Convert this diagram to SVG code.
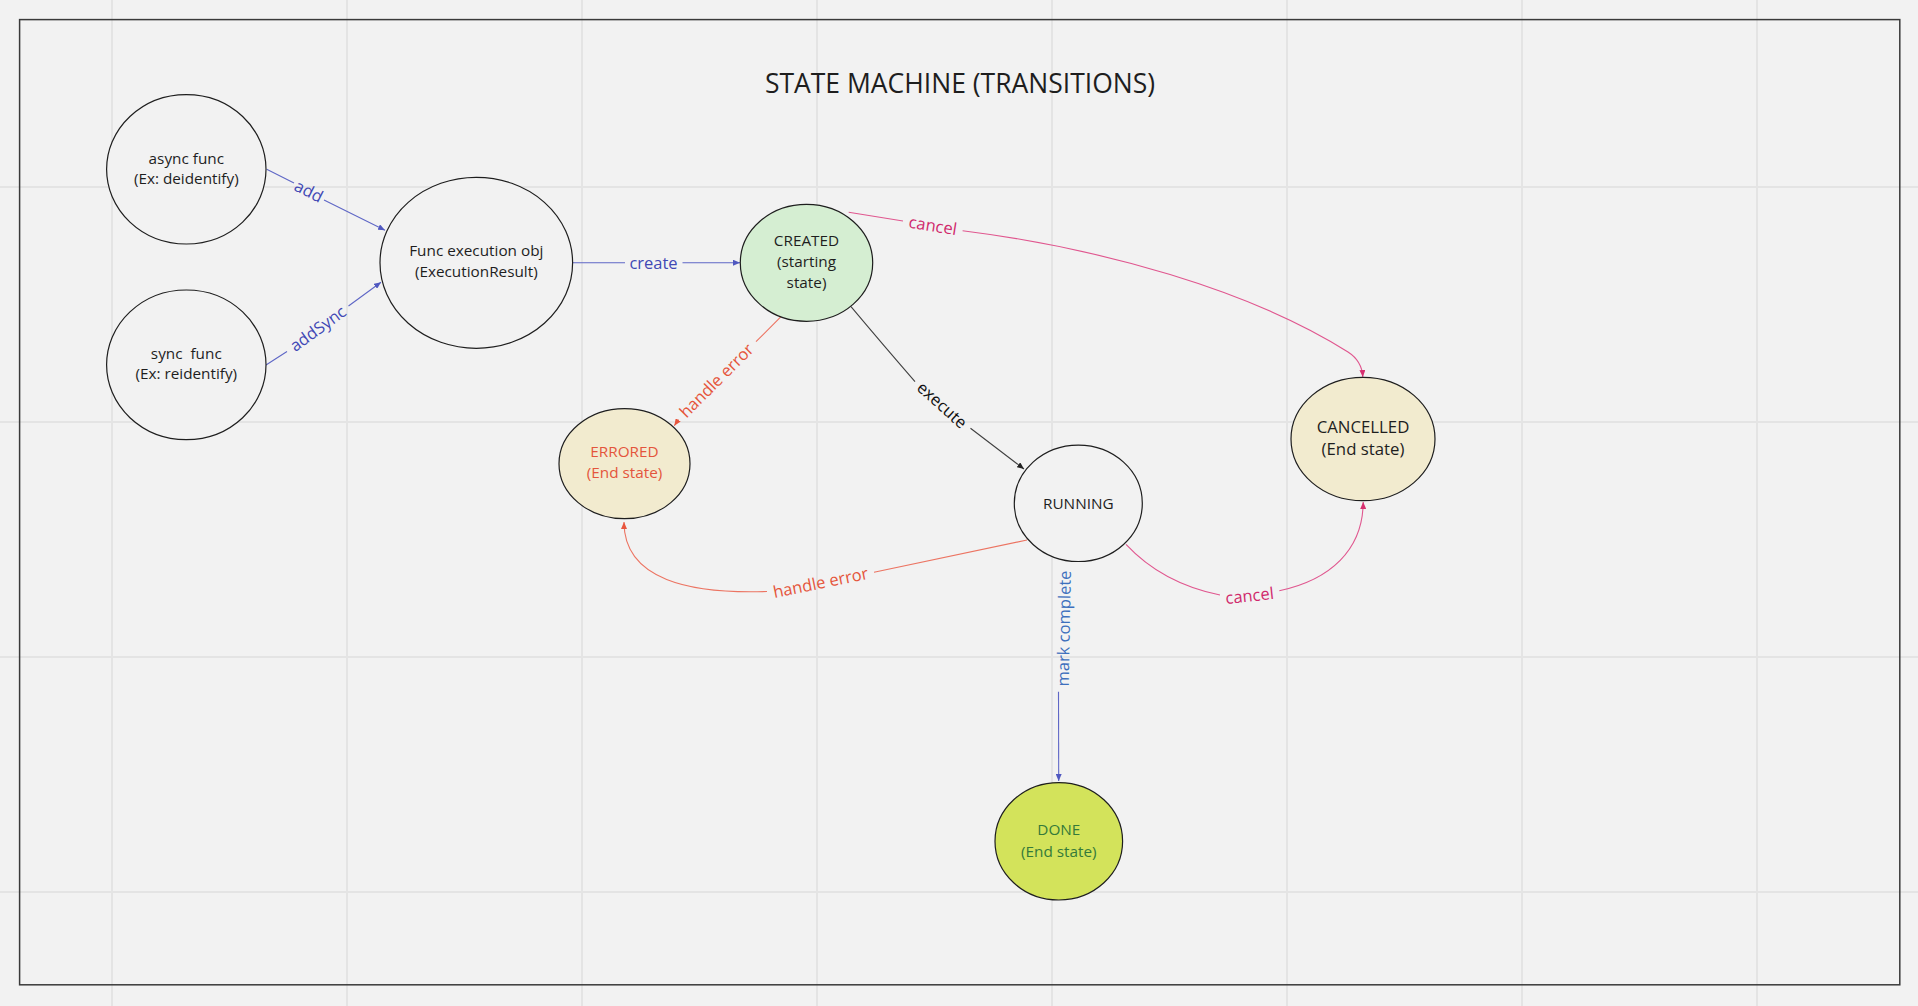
<svg xmlns="http://www.w3.org/2000/svg" width="1918" height="1006" viewBox="0 0 1918 1006">
  <style>
    .grid { stroke: #e4e4e4; stroke-width: 2; }
    .frame { fill: none; stroke: #3a3a3a; stroke-width: 1.5; }
    .title { font-family: "Open Sans", "Liberation Sans", sans-serif; font-size: 26.5px; fill: #1e1e1e; text-anchor: middle; }
    .node ellipse { stroke: #1e1e1e; stroke-width: 1.2; }
    .plain { fill: #f2f2f2; }
    .created { fill: #d5eed2; }
    .ended { fill: #f2ebcf; }
    .done { fill: #d3e35b; }
    .nt { font-family: "Open Sans", "Liberation Sans", sans-serif; font-size: 15.3px; fill: #1e1e1e; text-anchor: middle; }
    .nt.big { font-size: 16.8px; }
    .nt.err { fill: #e4553c; }
    .nt.ok { fill: #357a3a; }
    .edge { fill: none; stroke-width: 1.1; }
    .lbl { font-family: "Open Sans", "Liberation Sans", sans-serif; font-size: 16.5px; text-anchor: middle; dominant-baseline: central; }
    .blue { stroke: #5f67c6; }
    .blue-t { fill: #4148b5; }
    .pink { stroke: #e0578f; }
    .pink-t { fill: #d0296c; }
    .red { stroke: #ec7462; }
    .red-t { fill: #e5553b; }
    .dark { stroke: #404040; }
    .dark-t { fill: #111111; }
    .steel-t { fill: #3d6fbd; }
  </style>
  <defs>
    <marker id="ah-blue" markerUnits="userSpaceOnUse" markerWidth="8" markerHeight="6" refX="7" refY="3" orient="auto">
      <path d="M0,0 L7,3 L0,6 z" fill="#5058c0"/>
    </marker>
    <marker id="ah-pink" markerUnits="userSpaceOnUse" markerWidth="8" markerHeight="6" refX="7" refY="3" orient="auto">
      <path d="M0,0 L7,3 L0,6 z" fill="#d6306f"/>
    </marker>
    <marker id="ah-red" markerUnits="userSpaceOnUse" markerWidth="8" markerHeight="6" refX="7" refY="3" orient="auto">
      <path d="M0,0 L7,3 L0,6 z" fill="#e8563e"/>
    </marker>
    <marker id="ah-dark" markerUnits="userSpaceOnUse" markerWidth="8" markerHeight="6" refX="7" refY="3" orient="auto">
      <path d="M0,0 L7,3 L0,6 z" fill="#222222"/>
    </marker>
  </defs>

  <!-- canvas background and grid -->
  <rect x="0" y="0" width="1918" height="1006" fill="#f2f2f2"/>
  <g id="grid" class="grid">
    <line x1="112" y1="0" x2="112" y2="1006"/>
    <line x1="347" y1="0" x2="347" y2="1006"/>
    <line x1="582" y1="0" x2="582" y2="1006"/>
    <line x1="817" y1="0" x2="817" y2="1006"/>
    <line x1="1052" y1="0" x2="1052" y2="1006"/>
    <line x1="1287" y1="0" x2="1287" y2="1006"/>
    <line x1="1522" y1="0" x2="1522" y2="1006"/>
    <line x1="1757" y1="0" x2="1757" y2="1006"/>
    <line x1="0" y1="187" x2="1918" y2="187"/>
    <line x1="0" y1="422" x2="1918" y2="422"/>
    <line x1="0" y1="657" x2="1918" y2="657"/>
    <line x1="0" y1="892" x2="1918" y2="892"/>
  </g>

  <!-- frame and title -->
  <rect class="frame" x="19.6" y="19.6" width="1880.2" height="965.2"/>
  <text class="title" x="960" y="93">STATE MACHINE (TRANSITIONS)</text>

  <!-- transitions -->
  <g id="connectors">
    <g id="edge-add">
      <path class="edge blue" d="M266.7,169.3 L294,183 M324,200 L385,230.2" marker-end="url(#ah-blue)"/>
      <text class="lbl blue-t" transform="translate(309,190.5) rotate(27)">add</text>
    </g>
    <g id="edge-addSync">
      <path class="edge blue" d="M266,365 L287,351.5 M348.5,306 L381,282.2" marker-end="url(#ah-blue)"/>
      <text class="lbl blue-t" transform="translate(317.5,328) rotate(-36)">addSync</text>
    </g>
    <g id="edge-create">
      <path class="edge blue" d="M572.7,262.7 L625,262.7 M682.5,262.7 L740,262.7" marker-end="url(#ah-blue)"/>
      <text class="lbl blue-t" x="653.5" y="262.2">create</text>
    </g>
    <g id="edge-cancel-created">
      <path class="edge pink" d="M848.7,212.3 L903,221 M962.6,230.7 C1100,248 1250,290 1348,352 Q1362,361 1362.8,377" marker-end="url(#ah-pink)"/>
      <text class="lbl pink-t" transform="translate(933,225) rotate(9)">cancel</text>
    </g>
    <g id="edge-execute">
      <path class="edge dark" d="M851,306.7 Q884,346 915,381.7 M970.5,428.3 L1024,469" marker-end="url(#ah-dark)"/>
      <text class="lbl dark-t" transform="translate(942.5,404.5) rotate(42)">execute</text>
    </g>
    <g id="edge-error-created">
      <path class="edge red" d="M781,316.7 L756,341.7 M678.5,419.5 L674.3,425.7" marker-end="url(#ah-red)"/>
      <text class="lbl red-t" transform="translate(716,380) rotate(-45)">handle error</text>
    </g>
    <g id="edge-error-running">
      <path class="edge red" d="M1027,540 L874,572.3 M767,591.5 C690,594 624,580 624,522" marker-end="url(#ah-red)"/>
      <text class="lbl red-t" transform="translate(820.5,582) rotate(-11.5)">handle error</text>
    </g>
    <g id="edge-cancel-running">
      <path class="edge pink" d="M1126,544.3 Q1162,583 1220,595 M1279.3,590.7 C1330,580 1363,550 1363.2,502" marker-end="url(#ah-pink)"/>
      <text class="lbl pink-t" transform="translate(1249.5,595) rotate(-6)">cancel</text>
    </g>
    <g id="edge-complete">
      <path class="edge blue" d="M1058.5,691.7 L1058.7,781" marker-end="url(#ah-blue)"/>
      <text class="lbl steel-t" transform="translate(1063.3,628.5) rotate(-89)">mark complete</text>
    </g>
  </g>

  <!-- states -->
  <g id="node-async" class="node">
    <ellipse class="plain" cx="186.3" cy="169.3" rx="79.7" ry="74.7"/>
    <text class="nt" x="186.3" y="163.5">async func</text>
    <text class="nt" x="186.3" y="183.5">(Ex: deidentify)</text>
  </g>
  <g id="node-sync" class="node">
    <ellipse class="plain" cx="186.3" cy="364.8" rx="79.7" ry="74.8"/>
    <text class="nt" x="186.3" y="359.3" xml:space="preserve">sync  func</text>
    <text class="nt" x="186.3" y="379.3">(Ex: reidentify)</text>
  </g>
  <g id="node-execution" class="node">
    <ellipse class="plain" cx="476.3" cy="262.8" rx="96.3" ry="85.5"/>
    <text class="nt" x="476.3" y="256">Func execution obj</text>
    <text class="nt" x="476.3" y="277">(ExecutionResult)</text>
  </g>
  <g id="node-created" class="node">
    <ellipse class="created" cx="806.5" cy="262.8" rx="66.2" ry="58.5"/>
    <text class="nt" x="806.5" y="246">CREATED</text>
    <text class="nt" x="806.5" y="267">(starting</text>
    <text class="nt" x="806.5" y="288">state)</text>
  </g>
  <g id="node-errored" class="node">
    <ellipse class="ended" cx="624.5" cy="463.7" rx="65.5" ry="55"/>
    <text class="nt err" x="624.5" y="457.3">ERRORED</text>
    <text class="nt err" x="624.5" y="478.3">(End state)</text>
  </g>
  <g id="node-running" class="node">
    <ellipse class="plain" cx="1078.3" cy="503.3" rx="64" ry="58.2"/>
    <text class="nt" x="1078.3" y="508.5">RUNNING</text>
  </g>
  <g id="node-cancelled" class="node">
    <ellipse class="ended" cx="1363" cy="439" rx="72" ry="61.7"/>
    <text class="nt big" x="1363" y="432.5">CANCELLED</text>
    <text class="nt big" x="1363" y="455">(End state)</text>
  </g>
  <g id="node-done" class="node">
    <ellipse class="done" cx="1058.8" cy="841.3" rx="63.8" ry="58.7"/>
    <text class="nt ok" x="1058.8" y="835">DONE</text>
    <text class="nt ok" x="1058.8" y="856.5">(End state)</text>
  </g>
</svg>
